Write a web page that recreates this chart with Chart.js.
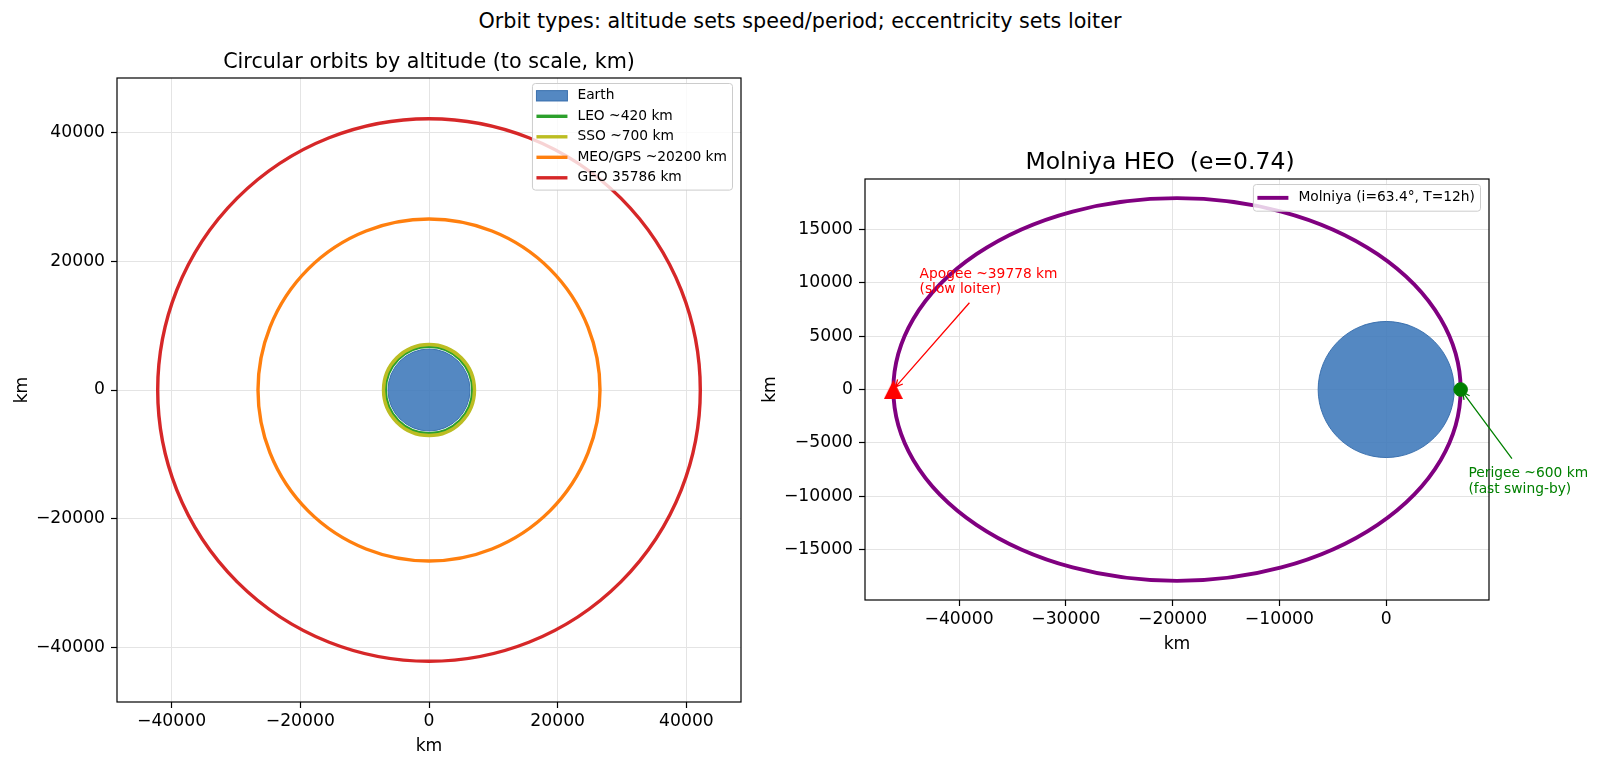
<!DOCTYPE html>
<html>
<head>
<meta charset="utf-8">
<script src="https://cdn.jsdelivr.net/npm/chart.js@4.4.1/dist/chart.umd.min.js"></script>
<style>
  body { margin: 0; background: #fff; }
  #wrap { position: relative; width: 1600px; height: 767px; overflow: hidden; }
  #suptitle { position: absolute; left: 0; top: 9px; width: 1600px; text-align: center;
    font: 20.7px 'DejaVu Sans'; line-height: 24px; color: #000; }
  canvas { position: absolute; top: 0; }
  #circ { left: 0; }
  #heo { left: 750px; }
</style>
</head>
<body>
<div id="wrap">
  <div id="suptitle">Orbit types: altitude sets speed/period; eccentricity sets loiter</div>
  <canvas id="circ" width="750" height="767"></canvas>
  <canvas id="heo" width="850" height="767"></canvas>
</div>
<script>
const earthRadius = 6371

// left panel: circular orbits
const orbitNames = ['LEO ~420 km', 'SSO ~700 km', 'MEO/GPS ~20200 km', 'GEO 35786 km']
const orbitAlts = [420, 700, 20200, 35786]
const orbitColors = ['#2ca02c', '#bcbd22', '#ff7f0e', '#d62728']
const circTicks = [-40000, -20000, 0, 20000, 40000]

// right panel: Molniya HEO
const molniyaPerigee = 600
const molniyaApogee = 39778
const molniyaName = 'Molniya (i=63.4°, T=12h)'
const heoXTicks = [-40000, -30000, -20000, -10000, 0]
const heoYTicks = [-15000, -10000, -5000, 0, 5000, 10000, 15000]

const FONT = 'DejaVu Sans'
const earthFill = 'rgba(60,120,185,0.88)'
const earthEdge = 'rgba(50,105,170,0.9)'
const gridColor = '#e4e4e4'

Chart.defaults.font.family = FONT
Chart.defaults.color = '#000'
Chart.defaults.animation = false

const rp = earthRadius + molniyaPerigee
const ra = earthRadius + molniyaApogee
const ecc = (ra - rp) / (ra + rp)
const semiMajor = (ra + rp) / 2
const semiMinor = Math.sqrt(ra * rp)
const circLim = (earthRadius + Math.max(...orbitAlts)) * 1.15
const heoPadX = (ra + rp) * 0.05
const heoLimY = semiMinor * 1.1

const heoNotes = [
  { lines: ['Apogee ~' + molniyaApogee + ' km', '(slow loiter)'], color: 'red', at: [-ra, 0], text: [-43700, 9000] },
  { lines: ['Perigee ~' + molniyaPerigee + ' km', '(fast swing-by)'], color: 'green', at: [rp, 0], text: [7700, -9700] }
]

const pxLen = (scale, d) => Math.abs(scale.getPixelForValue(d) - scale.getPixelForValue(0))

function axis(min, max, ticks, size, titlePad, horizontal) {
  return {
    type: 'linear', min, max,
    afterBuildTicks: s => { s.ticks = ticks.map(v => ({ value: v })) },
    afterFit: s => { if (horizontal) s.height = size; else s.width = size },
    ticks: {
      font: { size: 17.2 }, color: '#000', padding: horizontal ? 3.5 : 6,
      autoSkip: false, maxRotation: 0,
      callback: v => v < 0 ? '\u2212' + (-v) : String(v)
    },
    grid: { color: gridColor, lineWidth: 1, tickColor: '#000', tickLength: 6, tickWidth: 1.2 },
    border: { display: false },
    title: {
      display: true, text: 'km', color: '#000', font: { size: 17.2, lineHeight: 1.2 },
      padding: horizontal ? { top: 0, bottom: 9.8 } : { top: titlePad, bottom: 0 }
    }
  }
}

function triangleMarker(size, color) {
  const c = document.createElement('canvas')
  c.width = c.height = size
  const g = c.getContext('2d')
  g.fillStyle = color
  g.beginPath()
  g.moveTo(size / 2, 0)
  g.lineTo(size, size)
  g.lineTo(0, size)
  g.closePath()
  g.fill()
  return c
}

function drawLegend(ctx, a, items, rowH) {
  const fs = 13.8, pad = 5.5, gap = 6.9
  ctx.font = fs + 'px ' + FONT
  const textW = Math.max(...items.map(d => ctx.measureText(d.label).width))
  const w = 45 + textW + 5.5
  const h = 2 * pad + items.length * rowH + (items.length - 1) * gap
  const x0 = a.right - 8.5 - w, y0 = a.top + 5.5
  ctx.beginPath()
  ctx.roundRect(x0, y0, w, h, 3)
  ctx.fillStyle = 'rgba(255,255,255,0.8)'
  ctx.fill()
  ctx.strokeStyle = '#cccccc'
  ctx.lineWidth = 1
  ctx.stroke()
  items.forEach((d, i) => {
    const cy = y0 + pad + rowH / 2 + i * (rowH + gap)
    if (d.legendKind === 'patch') {
      ctx.fillStyle = d.pointBackgroundColor
      ctx.fillRect(x0 + 4, cy - 5.2, 31, 10.4)
      ctx.strokeStyle = d.pointBorderColor
      ctx.lineWidth = 1
      ctx.strokeRect(x0 + 4, cy - 5.2, 31, 10.4)
    } else {
      ctx.strokeStyle = d.legendColor || d.pointBorderColor
      ctx.lineWidth = d.legendWidth || d.pointBorderWidth
      ctx.beginPath()
      ctx.moveTo(x0 + 4, cy)
      ctx.lineTo(x0 + 35, cy)
      ctx.stroke()
    }
    ctx.fillStyle = '#000'
    ctx.textBaseline = 'middle'
    ctx.textAlign = 'left'
    ctx.fillText(d.label, x0 + 45, cy)
  })
}

function drawNote(ctx, xs, ys, n) {
  const fs = 13.8, gap = 15.5, pad = 3.4
  ctx.font = fs + 'px ' + FONT
  ctx.fillStyle = n.color
  ctx.strokeStyle = n.color
  ctx.textBaseline = 'alphabetic'
  ctx.textAlign = 'left'
  const tx = xs.getPixelForValue(n.text[0]), ty = ys.getPixelForValue(n.text[1])
  const last = n.lines.length - 1
  let w = 0
  n.lines.forEach((s, i) => {
    ctx.fillText(s, tx, ty - (last - i) * gap)
    w = Math.max(w, ctx.measureText(s).width)
  })
  const l = tx - pad, r = tx + w + pad
  const t = ty - last * gap - 0.93 * fs - pad, b = ty + 0.24 * fs + pad
  const cx = (l + r) / 2, cy = (t + b) / 2
  const px = xs.getPixelForValue(n.at[0]), py = ys.getPixelForValue(n.at[1])
  const dx = px - cx, dy = py - cy, len = Math.hypot(dx, dy)
  const ux = dx / len, uy = dy / len
  const s = Math.min(ux ? (r - l) / 2 / Math.abs(ux) : Infinity, uy ? (b - t) / 2 / Math.abs(uy) : Infinity) + 3.4
  const sx = cx + ux * s, sy = cy + uy * s
  const ex = px - ux * 3.4, ey = py - uy * 3.4
  const hl = 7, hw = 3.5
  ctx.lineWidth = 1.3
  ctx.beginPath()
  ctx.moveTo(sx, sy)
  ctx.lineTo(ex, ey)
  ctx.moveTo(ex - ux * hl + uy * hw, ey - uy * hl - ux * hw)
  ctx.lineTo(ex, ey)
  ctx.lineTo(ex - ux * hl - uy * hw, ey - uy * hl + ux * hw)
  ctx.stroke()
}

// frame, axes title, legend, ellipse and annotations for one panel
function panelPlugin(title, titleSize, titleShift, rowH, notes) {
  return {
    id: 'panel',
    beforeDatasetDraw(chart, args) {
      const d = chart.data.datasets[args.index]
      if (!d.drawEllipse) return
      const xs = chart.scales.x, ys = chart.scales.y, ctx = chart.ctx
      ctx.save()
      ctx.strokeStyle = d.legendColor
      ctx.lineWidth = d.legendWidth
      ctx.beginPath()
      ctx.ellipse(xs.getPixelForValue(d.data[0].x), ys.getPixelForValue(d.data[0].y),
        pxLen(xs, d.semiAxes[0]), pxLen(ys, d.semiAxes[1]), 0, 0, Math.PI * 2)
      ctx.stroke()
      ctx.restore()
    },
    afterDatasetsDraw(chart) {
      const { ctx, chartArea: a } = chart
      ctx.save()
      ctx.strokeStyle = '#000'
      ctx.lineWidth = 1.2
      ctx.strokeRect(a.left, a.top, a.width, a.height)
      ctx.fillStyle = '#000'
      ctx.font = titleSize + 'px ' + FONT
      ctx.textAlign = 'center'
      ctx.textBaseline = 'alphabetic'
      ctx.fillText(title, (a.left + a.right) / 2 + titleShift, a.top - 10)
      drawLegend(ctx, a, chart.data.datasets.filter(d => d.legendKind), rowH)
      notes.forEach(n => drawNote(ctx, chart.scales.x, chart.scales.y, n))
      ctx.restore()
    }
  }
}

new Chart(document.getElementById('circ'), {
  type: 'scatter',
  data: {
    datasets: [
      {
        label: 'Earth', legendKind: 'patch', data: [{ x: 0, y: 0 }], order: 9,
        pointRadius: c => pxLen(c.chart.scales.x, earthRadius),
        pointBackgroundColor: earthFill, pointBorderColor: earthEdge, pointBorderWidth: 1
      },
      ...orbitNames.map((name, i) => ({
        label: name, legendKind: 'line', data: [{ x: 0, y: 0 }], order: 4 - i,
        pointRadius: c => pxLen(c.chart.scales.x, earthRadius + orbitAlts[i]),
        pointBackgroundColor: 'rgba(0,0,0,0)', pointBorderColor: orbitColors[i], pointBorderWidth: 3.4
      }))
    ]
  },
  options: {
    responsive: false, events: [],
    layout: { padding: { left: 0, right: 9, top: 78, bottom: 0 } },
    plugins: { legend: { display: false }, tooltip: { enabled: false }, title: { display: false } },
    scales: {
      x: axis(-circLim, circLim, circTicks, 65, 0, true),
      y: axis(-circLim, circLim, circTicks, 117, 12.2, false)
    }
  },
  plugins: [panelPlugin('Circular orbits by altitude (to scale, km)', 20.7, 0, 13.6, [])]
})

new Chart(document.getElementById('heo'), {
  type: 'scatter',
  data: {
    datasets: [
      {
        label: 'Apogee', data: [{ x: -ra, y: 0 }], order: 0,
        pointStyle: triangleMarker(19, 'red'), pointRadius: 9
      },
      {
        label: 'Perigee', data: [{ x: rp, y: 0 }], order: 0,
        pointRadius: 6.8, pointBackgroundColor: 'green', pointBorderColor: 'green', pointBorderWidth: 1
      },
      {
        label: molniyaName, legendKind: 'line', legendColor: '#800080', legendWidth: 3.9,
        drawEllipse: true, semiAxes: [semiMajor, semiMinor],
        data: [{ x: (rp - ra) / 2, y: 0 }], order: 1, pointRadius: 0
      },
      {
        label: 'Earth', data: [{ x: 0, y: 0 }], order: 2,
        pointRadius: c => pxLen(c.chart.scales.x, earthRadius),
        pointBackgroundColor: earthFill, pointBorderColor: earthEdge, pointBorderWidth: 1
      }
    ]
  },
  options: {
    responsive: false, events: [],
    layout: { padding: { left: 0, right: 111, top: 179, bottom: 102 } },
    plugins: { legend: { display: false }, tooltip: { enabled: false }, title: { display: false } },
    scales: {
      x: axis(-ra - heoPadX, rp + heoPadX, heoXTicks, 65, 0, true),
      y: axis(-heoLimY, heoLimY, heoYTicks, 115, 10.5, false)
    }
  },
  plugins: [panelPlugin('Molniya HEO  (e=' + ecc.toFixed(2) + ')', 23.5, -17, 15.7, heoNotes)]
})
</script>
</body>
</html>
